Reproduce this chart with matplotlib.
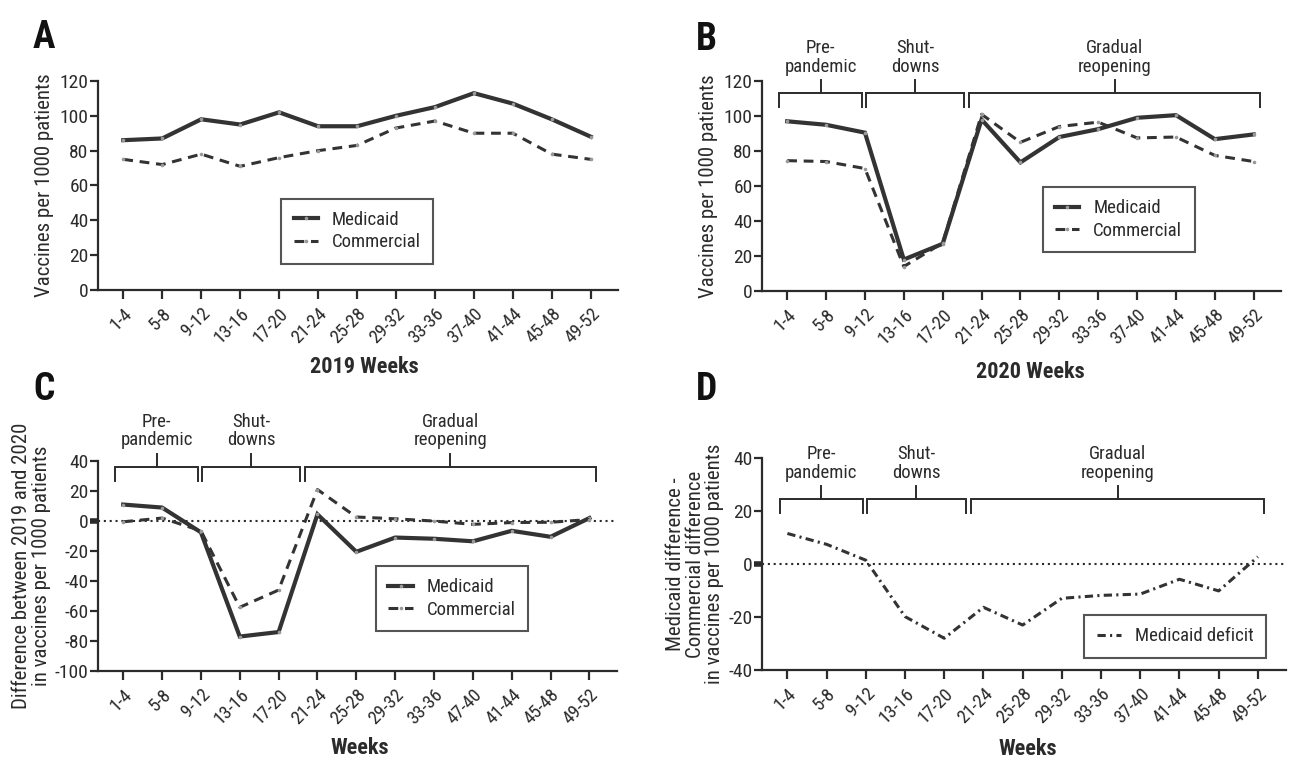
import matplotlib
matplotlib.use('Agg')
import matplotlib.pyplot as plt
from matplotlib.lines import Line2D

plt.rcParams['font.family'] = ['Roboto Condensed', 'Lato', 'DejaVu Sans']
plt.rcParams['axes.unicode_minus'] = False

weeks = ['1-4', '5-8', '9-12', '13-16', '17-20', '21-24', '25-28',
         '29-32', '33-36', '37-40', '41-44', '45-48', '49-52']
weeks_c = weeks[:9] + ['47-40'] + weeks[10:]   # label as printed in panel C

med_2019 = [86, 87, 98, 95, 102, 94, 94, 100, 105, 113, 107, 98, 88]
com_2019 = [75, 72, 78, 71, 76, 80, 83, 93, 97, 90, 90, 78, 75]

med_2020 = [97, 95, 90.5, 18, 27, 98, 73.5, 88, 92.5, 99, 100.5, 86.8, 89.5]
com_2020 = [74.5, 74, 70, 14, 27.5, 101, 85, 94, 96.5, 87.5, 88, 77.5, 74]

med_diff = [11, 9, -7.5, -77, -74, 4.5, -20.5, -11, -11.8, -13.5, -6.5, -10.5, 2]
com_diff = [-0.5, 2, -6.5, -57.5, -46, 21, 2.7, 1.5, 0, -2.2, -1, -0.8, 1]

deficit = [11.6, 7.5, 1.5, -19.8, -28, -16.3, -23, -12.9, -11.8, -11.3, -5.7, -10.1, 2.8]

phases = ['Pre-\npandemic', 'Shut-\ndowns', 'Gradual\nreopening']
phase_x = [(-0.2, 1.93), (2.02, 4.56), (4.68, 12.16)]

INK = '#2b2b2b'
fig = plt.figure(figsize=(12.94, 7.8), dpi=100)


def style(ax, ylim, yticks, labels):
    ax.set_xlim(-0.64, 12.71)
    ax.set_ylim(*ylim)
    ax.set_yticks(yticks)
    ax.set_xticks(range(13))
    ax.set_xticklabels(labels, rotation=45, ha='right', rotation_mode='anchor',
                       fontsize=13.5, color=INK)
    ax.tick_params(axis='x', length=6.5, width=1.6, color=INK, pad=4)
    ax.tick_params(axis='y', length=5.5, width=1.6, color=INK, labelsize=14,
                   labelcolor=INK, pad=1.5)
    for s in ['top', 'right']:
        ax.spines[s].set_visible(False)
    for s in ['left', 'bottom']:
        ax.spines[s].set_linewidth(1.6)
        ax.spines[s].set_color(INK)


def brackets(ax, y, drop, rise):
    for (x0, x1), lab in zip(phase_x, phases):
        ax.plot([x0, x0, x1, x1], [drop, y, y, drop], color=INK, lw=1.4,
                clip_on=False, solid_joinstyle='miter')
        xm = (x0 + x1) / 2
        ax.plot([xm, xm], [y, rise], color=INK, lw=1.4, clip_on=False)
        ax.annotate(lab, (xm, rise), xytext=(0, 3), textcoords='offset points',
                    ha='center', va='bottom', fontsize=13.5, color=INK,
                    linespacing=1.05, annotation_clip=False)


def legend(ax, handles, labels, bbox):
    lg = ax.legend(handles, labels, loc='center', bbox_to_anchor=bbox,
                   fontsize=13.5, frameon=True, fancybox=False, handlelength=1.3,
                   borderpad=0.65, labelspacing=0.25, handletextpad=0.75,
                   borderaxespad=0)
    lg.get_frame().set_edgecolor(INK)
    lg.get_frame().set_linewidth(1.5)
    for t in lg.get_texts():
        t.set_color(INK)


def thick_zero(ax, yticks):
    # the zero tick is drawn heavier in the original
    i = list(yticks).index(0)
    ax.yaxis.get_major_ticks()[i].tick1line.set_markeredgewidth(4)


pts = dict(marker='o', ms=1.6, mfc='#9a9a9a', mec='#9a9a9a')
solid = dict(color='#333333', lw=3.0, solid_joinstyle='miter', **pts)
dash = dict(color='#333333', lw=2.2, ls=(0, (3.2, 2.2)), **pts)
h_med = Line2D([0], [0], **solid)
h_com = Line2D([0], [0], **dash)

# A
axA = fig.add_axes([0.0760, 0.6282, 0.4019, 0.268])
style(axA, (0, 120), range(0, 121, 20), weeks)
axA.plot(range(13), med_2019, **solid)
axA.plot(range(13), com_2019, **dash)
axA.set_ylabel('Vaccines per 1000 patients', fontsize=15, color=INK, labelpad=4)
legend(axA, [h_med, h_com], ['Medicaid', 'Commercial'], (0.498, 0.282))

# B
axB = fig.add_axes([0.5891, 0.6269, 0.4011, 0.2692])
style(axB, (0, 120), range(0, 121, 20), weeks)
axB.plot(range(13), med_2020, **solid)
axB.plot(range(13), com_2020, **dash)
axB.set_ylabel('Vaccines per 1000 patients', fontsize=15, color=INK, labelpad=4)
brackets(axB, 113, 105, 120.5)
legend(axB, [h_med, h_com], ['Medicaid', 'Commercial'], (0.6865, 0.34))

# C
c_ticks = range(-100, 41, 20)
axC = fig.add_axes([0.0760, 0.1397, 0.4008, 0.2692])
style(axC, (-100, 40), c_ticks, weeks_c)
axC.axhline(0, color=INK, lw=1.5, ls=(0, (1, 1.8)))
axC.plot(range(13), med_diff, **solid)
axC.plot(range(13), com_diff, **dash)
axC.set_ylabel('Difference between 2019 and 2020\nin vaccines per 1000 patients',
               fontsize=15, color=INK, labelpad=3, linespacing=1.05)
brackets(axC, 36.2, 27, 45)
legend(axC, [h_med, h_com], ['Medicaid', 'Commercial'], (0.682, 0.345))
thick_zero(axC, c_ticks)

# D
d_ticks = range(-40, 41, 20)
axD = fig.add_axes([0.5891, 0.141, 0.4045, 0.2714])
style(axD, (-40, 40), d_ticks, weeks)
axD.axhline(0, color=INK, lw=1.5, ls=(0, (1, 1.8)))
dd = dict(color='#333333', lw=2.2, ls=(0, (2.7, 1.4, 0.7, 1.4)))
axD.plot(range(13), deficit, **dd)
axD.set_ylabel('Medicaid difference -\nCommercial difference\nin vaccines per 1000 patients',
               fontsize=15, color=INK, labelpad=3, linespacing=1.05)
brackets(axD, 24.6, 19.2, 29.5)
legend(axD, [Line2D([0], [0], **dd)], ['Medicaid deficit'], (0.789, 0.159))
thick_zero(axD, d_ticks)

# panel letters and x labels
for lab, x, y in [('A', 44, 38), ('B', 706, 39), ('C', 44, 389), ('D', 706, 389)]:
    fig.text(x / 1294, 1 - y / 780, lab, fontsize=27, fontweight='bold',
             color='#111111', ha='center', va='center')
for lab, x, y in [('2019 Weeks', 364, 367), ('2020 Weeks', 1030, 372),
                  ('Weeks', 360, 748), ('Weeks', 1028, 749)]:
    fig.text(x / 1294, 1 - y / 780, lab, fontsize=16, fontweight='bold',
             color=INK, ha='center', va='center')

fig.savefig('out.png', dpi=100)
